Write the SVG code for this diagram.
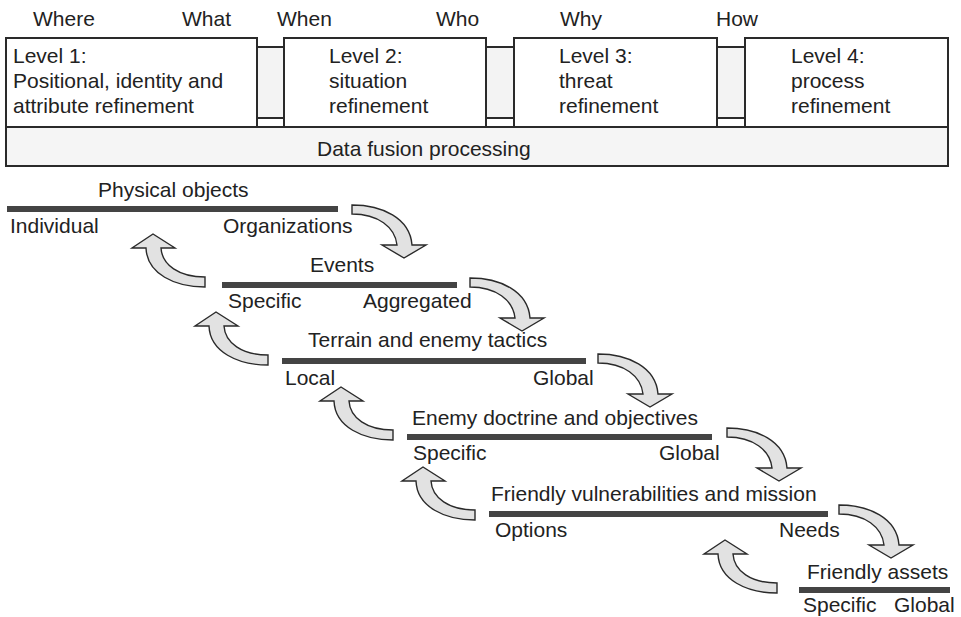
<svg xmlns="http://www.w3.org/2000/svg" xmlns:xlink="http://www.w3.org/1999/xlink" width="961" height="617" viewBox="0 0 961 617">
  <style>
    text { font-family: "Liberation Sans", Arial, sans-serif; font-size: 21px; fill: #222; }
    .box { fill: #fff; stroke: #2a2a2a; stroke-width: 2; }
    .strip { fill: #f3f3f3; stroke: #2a2a2a; stroke-width: 2; }
    .base { fill: #f5f5f5; stroke: #2a2a2a; stroke-width: 2; }
    .bar { fill: #444; }
    .arrow { fill: #e2e2e2; stroke: #2a2a2a; stroke-width: 1.4; stroke-linejoin: miter; }
  </style>
  <defs>
    <!-- curved block arrow heading right then down; origin = top-left of tail -->
    <path id="arrow-down" d="M0,0 C30,0 58,13 60,40 L74,40 L52,53 L30,40 L45,40 C43,22 26,9 0,9 Z"/>
    <!-- curved block arrow heading left then up; origin = bottom-right of tail -->
    <path id="arrow-up" d="M0,0 C-30,0 -58,-13 -59,-39 L-73,-39 L-52,-53 L-30,-39 L-44,-39 C-43,-22 -26,-10 0,-10 Z"/>
  </defs>

  <!-- question labels above the levels -->
  <g id="questions">
    <text x="33" y="26">Where</text>
    <text x="182" y="26">What</text>
    <text x="277" y="26">When</text>
    <text x="436" y="26">Who</text>
    <text x="560" y="26">Why</text>
    <text x="716" y="26">How</text>
  </g>

  <!-- links between the level boxes -->
  <g id="links">
    <rect class="strip" x="257" y="47" width="27" height="71"/>
    <rect class="strip" x="486" y="47" width="28" height="71"/>
    <rect class="strip" x="717" y="47" width="28" height="71"/>
  </g>

  <g id="level1">
    <rect class="box" x="6" y="38" width="251" height="89"/>
    <text x="13" y="63">Level 1:</text>
    <text x="13" y="88">Positional, identity and</text>
    <text x="13" y="113">attribute refinement</text>
  </g>
  <g id="level2">
    <rect class="box" x="284" y="38" width="202" height="89"/>
    <text x="329" y="63">Level 2:</text>
    <text x="329" y="88">situation</text>
    <text x="329" y="113">refinement</text>
  </g>
  <g id="level3">
    <rect class="box" x="514" y="38" width="203" height="89"/>
    <text x="559" y="63">Level 3:</text>
    <text x="559" y="88">threat</text>
    <text x="559" y="113">refinement</text>
  </g>
  <g id="level4">
    <rect class="box" x="745" y="38" width="203" height="89"/>
    <text x="791" y="63">Level 4:</text>
    <text x="791" y="88">process</text>
    <text x="791" y="113">refinement</text>
  </g>
  <g id="data-fusion">
    <rect class="base" x="6" y="127" width="942" height="39"/>
    <text x="317" y="156">Data fusion processing</text>
  </g>

  <!-- hierarchy of refinement scales -->
  <g id="physical-objects">
    <rect class="bar" x="7" y="206" width="331" height="6"/>
    <text x="98" y="197">Physical objects</text>
    <text x="10" y="233">Individual</text>
    <text x="223" y="233">Organizations</text>
  </g>
  <g id="events">
    <rect class="bar" x="222" y="282" width="235" height="6"/>
    <text x="310" y="272">Events</text>
    <text x="228" y="308">Specific</text>
    <text x="363" y="308">Aggregated</text>
  </g>
  <g id="terrain">
    <rect class="bar" x="282" y="358" width="304" height="6"/>
    <text x="308" y="347">Terrain and enemy tactics</text>
    <text x="285" y="385">Local</text>
    <text x="533" y="385">Global</text>
  </g>
  <g id="enemy-doctrine">
    <rect class="bar" x="407" y="434" width="305" height="6"/>
    <text x="412" y="425">Enemy doctrine and objectives</text>
    <text x="413" y="460">Specific</text>
    <text x="659" y="460">Global</text>
  </g>
  <g id="friendly-vulnerabilities">
    <rect class="bar" x="489" y="511" width="339" height="6"/>
    <text x="491" y="501">Friendly vulnerabilities and mission</text>
    <text x="495" y="537">Options</text>
    <text x="779" y="537">Needs</text>
  </g>
  <g id="friendly-assets">
    <rect class="bar" x="799" y="587" width="151" height="6"/>
    <text x="807" y="579">Friendly assets</text>
    <text x="803" y="612">Specific</text>
    <text x="894" y="612">Global</text>
  </g>

  <!-- curved arrows between scales -->
  <g id="connectors">
    <use class="arrow" xlink:href="#arrow-down" href="#arrow-down" x="352" y="205"/>
    <use class="arrow" xlink:href="#arrow-down" href="#arrow-down" x="470" y="278"/>
    <use class="arrow" xlink:href="#arrow-down" href="#arrow-down" x="598" y="354"/>
    <use class="arrow" xlink:href="#arrow-down" href="#arrow-down" x="727" y="428"/>
    <use class="arrow" xlink:href="#arrow-down" href="#arrow-down" x="839" y="505"/>
    <use class="arrow" xlink:href="#arrow-up" href="#arrow-up" x="205" y="287"/>
    <use class="arrow" xlink:href="#arrow-up" href="#arrow-up" x="268" y="365"/>
    <use class="arrow" xlink:href="#arrow-up" href="#arrow-up" x="393" y="440"/>
    <use class="arrow" xlink:href="#arrow-up" href="#arrow-up" x="475" y="520"/>
    <use class="arrow" xlink:href="#arrow-up" href="#arrow-up" x="777" y="593"/>
  </g>
</svg>
